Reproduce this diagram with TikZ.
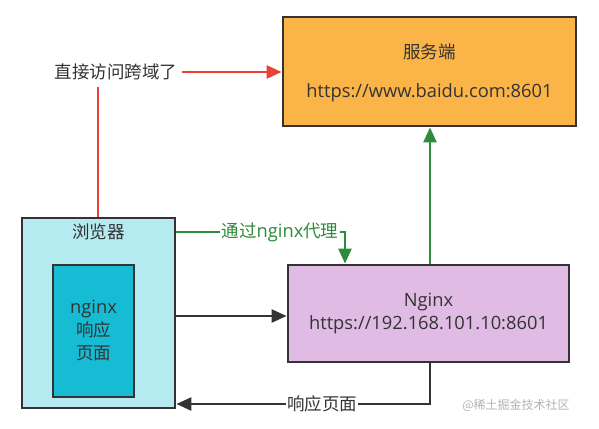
\documentclass[tikz,border=0pt]{standalone}
\usepackage{fontspec}
\setmainfont{Open Sans}
\newfontfamily\cjk{Noto Sans CJK SC}
\usetikzlibrary{arrows.meta}
\definecolor{srv}{HTML}{FBB448}
\definecolor{brw}{HTML}{B5EAF0}
\definecolor{inr}{HTML}{16BCD4}
\definecolor{ngx}{HTML}{E0BBE4}
\definecolor{redl}{HTML}{EA4335}
\definecolor{grn}{HTML}{2E8B3A}
\definecolor{dk}{HTML}{333333}
\begin{document}
\begin{tikzpicture}[x=1pt,y=-1pt,
  box/.style={draw=dk,line width=2.8pt,inner sep=0pt,font=\fontsize{18.3}{23}\selectfont,text=dk},
  txt/.style={text=dk,font=\fontsize{18.3}{23}\selectfont},
  lbl/.style={font=\fontsize{17.5}{20}\selectfont\cjk,inner sep=1pt,fill=white},
  conn/.style={line width=2.5pt,-{Triangle[length=15pt,width=13pt]}}]
\useasboundingbox (0,0) rectangle (599,428);
\node[box,fill=srv,minimum width=293pt,minimum height=109pt] (srv) at (429.5,71.5) {};
\node[txt,font=\fontsize{17.5}{20}\selectfont\cjk] (srvt) at (429.5,52) {服务端};
\node[txt] (srvu) at (429.5,93) {https://www.baidu.com:8601};
\node[box,fill=brw,minimum width=153pt,minimum height=190pt] (brw) at (98.5,313) {};
\node[txt,font=\fontsize{17.5}{20}\selectfont\cjk] (brwt) at (98.5,232) {浏览器};
\node[box,fill=inr,minimum width=81pt,minimum height=132pt,align=center] (inr) at (93.5,331) {nginx\\{\cjk\fontsize{17.5}{23}\selectfont 响应}\\{\cjk\fontsize{17.5}{23}\selectfont 页面}};
\node[box,fill=ngx,minimum width=281pt,minimum height=97pt,align=center] (ngx) at (428.5,313.5) {Nginx\\https://192.168.101.10:8601};
\coordinate (gd) at (345,232);
\coordinate (up) at (430,0);
\coordinate (rq) at (0,316);
\coordinate (rs) at (430,404);
% red direct
\node[lbl,text=dk] (red) at (116,72) {直接访问跨域了};
\draw[redl,line width=2.5pt] (brw.north -| 98,0) -- (98,87);
\draw[redl,conn] ([xshift=4pt]red.east) -- (srv.west |- red.east);
% green proxy
\node[lbl,text=grn] (gl) at (280,232) {通过{\fontspec{Open Sans}\fontsize{18.3}{20}\selectfont nginx}代理};
\draw[grn,line width=2.5pt] (brw.east |- gl) -- (gl.west);
\draw[grn,conn] (gl.east) -- (gd) -- (gd |- ngx.north);
\draw[grn,conn] (up |- ngx.north) -- (up |- srv.south);
% request
\draw[dk,conn] (brw.east |- rq) -- (ngx.west |- rq);
% response
\node[lbl,text=dk] (rl) at (322,404) {响应页面};
\draw[dk,line width=2.5pt] (rs |- ngx.south) -- (rs) -- (rl.east);
\draw[dk,conn] (rl.west) -- (brw.east |- rl);
\node[text=gray!60,font=\fontsize{12}{14}\selectfont\cjk] (wm) at (516,405) {@稀土掘金技术社区};
\end{tikzpicture}
\end{document}
